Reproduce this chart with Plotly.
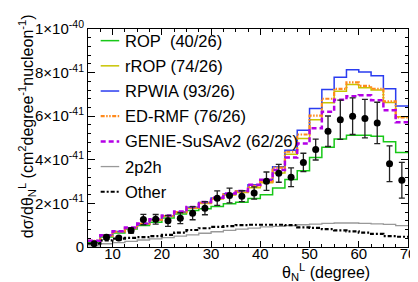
import plotly.graph_objects as go

# bin centres of theta_N^L (degree), bin width 2.5
bin_centers = [6.25, 8.75, 11.25, 13.75, 16.25, 18.75, 21.25, 23.75, 26.25, 28.75,
               31.25, 33.75, 36.25, 38.75, 41.25, 43.75, 46.25, 48.75, 51.25, 53.75,
               56.25, 58.75, 61.25, 63.75, 66.25, 68.75]
bin_width = 2.5

# cross sections in units of 1e-41 cm^2 degree^-1 nucleon^-1
rop = [0.22, 0.46, 0.64, 0.82, 0.99, 1.13, 1.33, 1.51, 1.67, 1.75,
       1.86, 1.98, 2.05, 2.22, 2.40, 2.71, 3.10, 3.50, 4.10, 4.57,
       4.95, 5.13, 5.13, 5.08, 4.83, 4.34]
rrop = [0.27, 0.52, 0.70, 0.87, 1.05, 1.24, 1.41, 1.58, 1.78, 2.00,
        2.20, 2.38, 2.50, 2.72, 2.95, 3.40, 4.25, 4.98, 5.84, 6.62,
        7.15, 7.45, 7.30, 7.20, 6.63, 5.97]
rpwia = [0.28, 0.53, 0.71, 0.88, 1.07, 1.26, 1.43, 1.61, 1.82, 2.04,
         2.25, 2.44, 2.58, 2.85, 3.05, 3.68, 4.44, 5.36, 6.35, 7.22,
         7.79, 8.13, 8.03, 7.85, 7.26, 6.47]
edrmf = [0.28, 0.52, 0.70, 0.87, 1.06, 1.25, 1.42, 1.60, 1.80, 2.03,
         2.23, 2.42, 2.55, 2.80, 3.00, 3.64, 4.37, 5.16, 6.03, 6.80,
         7.25, 7.55, 7.39, 7.26, 6.68, 5.95]
genie = [0.29, 0.54, 0.72, 0.89, 1.08, 1.27, 1.45, 1.63, 1.84, 2.06,
         2.26, 2.45, 2.57, 2.85, 3.08, 3.53, 4.10, 4.75, 5.45, 6.20,
         6.75, 6.92, 6.96, 6.73, 6.27, 5.72]
twop2h = [0.05, 0.15, 0.20, 0.26, 0.32, 0.37, 0.43, 0.50, 0.56, 0.63,
          0.70, 0.76, 0.82, 0.87, 0.92, 0.95, 0.98, 1.02, 1.05, 1.08,
          1.10, 1.10, 1.08, 1.06, 1.04, 0.98]
other = [0.15, 0.30, 0.38, 0.42, 0.45, 0.50, 0.56, 0.66, 0.78, 0.86,
         0.92, 0.96, 1.00, 1.02, 1.02, 1.02, 1.00, 0.90, 0.88, 0.82,
         0.76, 0.72, 0.66, 0.60, 0.50, 0.47]
data = [0.15, 0.45, 0.41, 0.76, 1.26, 1.27, 1.20, 1.32, 1.55, 1.78,
        2.24, 2.36, 2.33, 2.48, 3.02, 3.38, 3.20, 3.88, 4.47, 5.31,
        5.84, 6.00, 5.89, 5.69, 3.82, 3.06]
data_err = [0.05, 0.10, 0.08, 0.12, 0.24, 0.22, 0.25, 0.25, 0.30, 0.30,
            0.33, 0.34, 0.25, 0.28, 0.42, 0.41, 0.43, 0.42, 0.48, 0.70,
            0.90, 0.84, 0.88, 0.95, 0.82, 0.82]

y_tickvals = [0, 2, 4, 6, 8, 10]
y_ticktext = ["0", "2×10<sup>-41</sup>", "4×10<sup>-41</sup>", "6×10<sup>-41</sup>",
              "8×10<sup>-41</sup>", "1×10<sup>-40</sup>"]
x_tickvals = [10, 20, 30, 40, 50, 60, 70]

series = [
    ("ROP\u00a0 (40/26)", rop, dict(color="#18c818", width=1.5)),
    ("rROP (74/26)", rrop, dict(color="#c8c400", width=1.5)),
    ("RPWIA (93/26)", rpwia, dict(color="#2a3cf0", width=1.5)),
    ("ED-RMF (76/26)", edrmf, dict(color="#ff8a1c", width=2.2, dash="4px,1.5px,1.5px,1.5px,1.5px,1.5px")),
    ("GENIE-SuSAv2 (62/26)", genie, dict(color="#b400e6", width=2.5, dash="5px,3px")),
    ("2p2h", twop2h, dict(color="#999999", width=1.3)),
    ("Other", other, dict(color="#000000", width=2.2, dash="4px,2px,2px,2px")),
]

half = bin_width / 2
edges = [c - half for c in bin_centers] + [bin_centers[-1] + half]

fig = go.Figure()
for i, (name, vals, line) in enumerate(series):
    fig.add_trace(go.Scatter(
        x=edges, y=list(vals) + [vals[-1]], mode="lines", line_shape="hv",
        name=name, line=line, showlegend=False,
    ))

fig.add_trace(go.Scatter(
    x=bin_centers, y=data, mode="markers", showlegend=False,
    marker=dict(color="black", size=7),
    error_y=dict(type="data", array=data_err, color="#222222", thickness=1.3, width=3),
))

# legend drawn inside the frame (paper coordinates of the 328x219 px plot area)
plot_left, plot_w, plot_bottom, plot_h = 80, 328, 239, 219
leg_x0, leg_x1, leg_text_x = 93, 112, 116
leg_y0, leg_dy = 31.7, 25.3
for i, (name, vals, line) in enumerate(series):
    py = leg_y0 + i * leg_dy
    yp = (plot_bottom - py) / plot_h
    fig.add_shape(type="line", xref="paper", yref="paper",
                  x0=(leg_x0 - plot_left) / plot_w, x1=(leg_x1 - plot_left) / plot_w,
                  y0=yp, y1=yp, line=line)
    fig.add_annotation(text=name, xref="paper", yref="paper",
                       x=(leg_text_x - plot_left) / plot_w, y=yp,
                       xanchor="left", yanchor="middle", showarrow=False,
                       font=dict(size=16.5))

axis_common = dict(
    showline=True, linecolor="black", linewidth=1, mirror="allticks",
    ticks="inside", tickcolor="black", showgrid=False, zeroline=False,
    tickfont=dict(family="Liberation Sans, Arial, sans-serif", size=15, color="black"),
)

fig.update_layout(
    width=418, height=282,
    margin=dict(l=80, r=10, t=20, b=43),
    paper_bgcolor="white", plot_bgcolor="white",
    font=dict(family="Liberation Sans, Arial, sans-serif", color="black"),
    xaxis=dict(range=[5, 70], tickvals=x_tickvals, ticklen=6, ticklabelstandoff=-7,
               minor=dict(dtick=2.5, tick0=5, ticks="inside", ticklen=3, tickcolor="black"),
               **axis_common),
    yaxis=dict(range=[0, 10], tickvals=y_tickvals, ticktext=y_ticktext, ticklen=7,
               minor=dict(dtick=0.4, tick0=0, ticks="inside", ticklen=3, tickcolor="black"),
               **axis_common),
    showlegend=False,
)

fig.add_annotation(
    text="θ<sub>N</sub><sup>L</sup> (degree)", xref="paper", yref="paper",
    x=0.887, y=-0.113, xanchor="right", yanchor="middle", showarrow=False,
    font=dict(size=16),
)
fig.add_annotation(
    text="dσ/dθ<sub>N</sub><sup>L</sup> (cm<sup>2</sup>degree<sup>-1</sup>nucleon<sup>-1</sup>)",
    xref="paper", yref="paper", x=-0.19, y=0.555, xanchor="center", yanchor="middle",
    textangle=-90, showarrow=False, font=dict(size=16),
)

fig.write_html("out.html")
